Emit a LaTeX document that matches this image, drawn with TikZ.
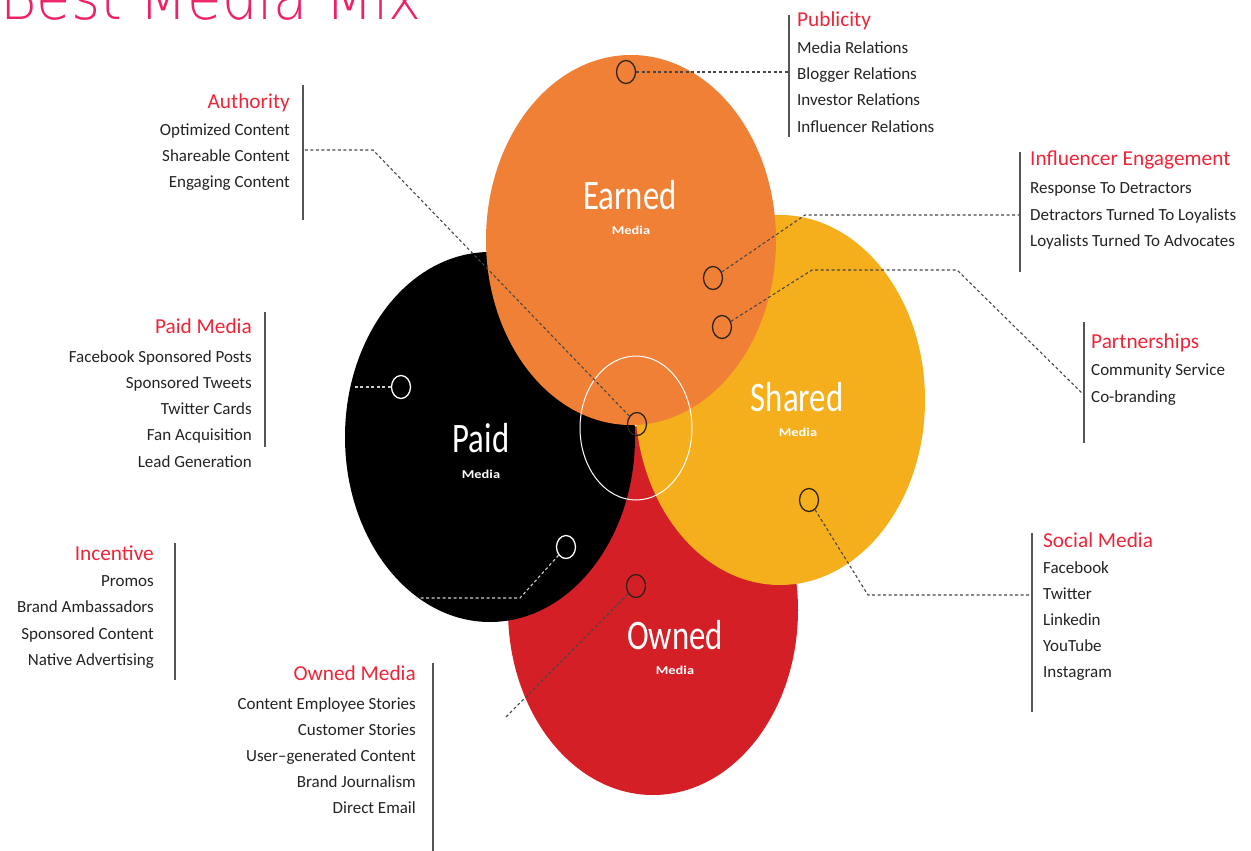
\documentclass[tikz,border=0pt]{standalone}
\usepackage{fontspec}
\setmainfont{Carlito}
\newfontfamily\titlefont{DejaVu Sans ExtraLight}
\usetikzlibrary{shapes.geometric}
\definecolor{earnedcol}{RGB}{241,128,55}
\definecolor{sharedcol}{RGB}{245,174,28}
\definecolor{ownedcol}{RGB}{212,31,38}
\definecolor{headred}{RGB}{240,36,56}
\definecolor{titlepink}{RGB}{238,32,102}
\definecolor{itemcol}{RGB}{35,35,35}
\definecolor{barcol}{RGB}{85,85,85}
\definecolor{markcol}{RGB}{45,35,25}
\definecolor{conncol}{RGB}{70,70,70}
\tikzset{
  blob/.style={ellipse, minimum width=290pt, minimum height=370pt, inner sep=0pt},
  marker/.style={ellipse, draw=markcol, line width=1.3pt, minimum width=19pt, minimum height=23pt, inner sep=0pt},
  wmarker/.style={marker, draw=white},
  conn/.style={draw=conncol, line width=1.1pt, dash pattern=on 3pt off 2.5pt},
  wconn/.style={conn, draw=white!80!black},
  bar/.style={draw=barcol, line width=1.2pt},
  head/.style={text=headred, font=\fontsize{21.3}{24}\selectfont, inner sep=0pt},
  item/.style={text=itemcol, font=\fontsize{17}{20}\selectfont, inner sep=0pt},
  big/.style={text=white, font=\fontsize{42}{46}\selectfont, inner sep=0pt},
  small/.style={text=white, font=\bfseries\fontsize{12}{14}\selectfont, inner sep=0pt}
}
\begin{document}
\begin{tikzpicture}[x=1pt,y=-1pt]
  \useasboundingbox (0,0) rectangle (1251,851);
  % the four media
  \node[blob, fill=ownedcol] (owned) at (653,610) {};
  \node[blob, fill=black] (paid) at (490,437) {};
  \node[blob, fill=sharedcol] (shared) at (780,400) {};
  \node[blob, fill=earnedcol] (earned) at (631,240) {};
  \node[ellipse, draw=white, line width=1pt, minimum width=112pt, minimum height=144pt] (ring) at (636,428) {};
  \node[big] (earnedlbl) at (630,195) {\scalebox{0.78}[1]{Earned}};
  \node[small] (earnedsub) at (631,230) {\scalebox{1.2}[1]{Media}};
  \node[big] (paidlbl) at (481,438) {\scalebox{0.78}[1]{Paid}};
  \node[small] (paidsub) at (481,474) {\scalebox{1.2}[1]{Media}};
  \node[big] (sharedlbl) at (797,397) {\scalebox{0.78}[1]{Shared}};
  \node[small] (sharedsub) at (798,432) {\scalebox{1.2}[1]{Media}};
  \node[big] (ownedlbl) at (675,635) {\scalebox{0.78}[1]{Owned}};
  \node[small] (ownedsub) at (675,670) {\scalebox{1.2}[1]{Media}};
  \node[anchor=base west, inner sep=0pt, text=titlepink, font=\titlefont\fontsize{62}{62}\selectfont] (title) at (0,20) {\scalebox{0.9}[1]{Best Media Mix}};
  % markers
  \node[marker] (mEarned) at (626,72) {};
  \node[marker] (mInfl) at (713,278) {};
  \node[marker] (mPart) at (722,327) {};
  \node[marker] (mAuth) at (637,424) {};
  \node[wmarker] (mPaid) at (401,387) {};
  \node[wmarker] (mInc) at (566,547) {};
  \node[marker] (mOwned) at (636,586) {};
  \node[marker] (mSocial) at (809,500) {};
  % connectors
  \coordinate (pubend) at (789,72);
  \coordinate (inflknee) at (805,215);
  \coordinate (inflend) at (1020,215);
  \coordinate (partknee) at (812,270);
  \coordinate (partknee2) at (957,270);
  \coordinate (partend) at (1084,395);
  \coordinate (authknee) at (373,150);
  \coordinate (authend) at (303,150);
  \coordinate (paidend) at (355,387);
  \coordinate (incknee) at (520,598);
  \coordinate (incend) at (415,598);
  \coordinate (ownedend) at (506,717);
  \coordinate (socknee) at (868,595);
  \coordinate (socend) at (1032,595);
  \draw[conn] (mEarned) -- (pubend);
  \draw[conn] (mInfl) -- (inflknee) -- (inflend);
  \draw[conn] (mPart) -- (partknee) -- (partknee2) -- (partend);
  \draw[conn] (mAuth) -- (authknee) -- (authend);
  \draw[wconn] (mPaid) -- (paidend);
  \draw[wconn] (mInc) -- (incknee) -- (incend);
  \draw[conn] (mOwned) -- (ownedend);
  \draw[conn] (mSocial) -- (socknee) -- (socend);
  % bars
  \draw[bar] (789,15) -- (789,137);
  \draw[bar] (1020,152) -- (1020,272);
  \draw[bar] (1084,322) -- (1084,443);
  \draw[bar] (1032,533) -- (1032,712);
  \draw[bar] (303,85) -- (303,220);
  \draw[bar] (265,312) -- (265,447);
  \draw[bar] (175,543) -- (175,680);
  \draw[bar] (433,663) -- (433,851);
  % right hand lists
  \node[head, anchor=base west] (publicity) at (797,27) {Publicity};
  \foreach \t [count=\i] in {Media Relations, Blogger Relations, Investor Relations, Influencer Relations}
    \node[item, anchor=base west] (publicity-\i) at (797,27+26.3*\i) {\t};
  \node[head, anchor=base west] (influencer) at (1030,165) {Influencer Engagement};
  \foreach \t [count=\i] in {Response To Detractors, Detractors Turned To Loyalists, Loyalists Turned To Advocates}
    \node[item, anchor=base west] (influencer-\i) at (1030,167+26.5*\i) {\t};
  \node[head, anchor=base west] (partner) at (1091,348) {Partnerships};
  \foreach \t [count=\i] in {Community Service, Co-branding}
    \node[item, anchor=base west] (partner-\i) at (1091,349+26.5*\i) {\t};
  \node[head, anchor=base west] (social) at (1043,547) {Social Media};
  \foreach \t [count=\i] in {Facebook, Twitter, Linkedin, YouTube, Instagram}
    \node[item, anchor=base west] (social-\i) at (1043,547+26*\i) {\t};
  % left hand lists
  \node[head, anchor=base east] (authority) at (290,108) {Authority};
  \foreach \t [count=\i] in {Optimized Content, Shareable Content, Engaging Content}
    \node[item, anchor=base east] (authority-\i) at (290,109+26.3*\i) {\t};
  \node[head, anchor=base east] (paidmedia) at (252,333) {Paid Media};
  \foreach \t [count=\i] in {Facebook Sponsored Posts, Sponsored Tweets, Twitter Cards, Fan Acquisition, Lead Generation}
    \node[item, anchor=base east] (paidmedia-\i) at (252,336+26.2*\i) {\t};
  \node[head, anchor=base east] (incentive) at (154,560) {Incentive};
  \foreach \t [count=\i] in {Promos, Brand Ambassadors, Sponsored Content, Native Advertising}
    \node[item, anchor=base east] (incentive-\i) at (154,560+26.4*\i) {\t};
  \node[head, anchor=base east] (ownedmedia) at (416,680) {Owned Media};
  \foreach \t [count=\i] in {Content Employee Stories, Customer Stories, User–generated Content, Brand Journalism, Direct Email}
    \node[item, anchor=base east] (ownedmedia-\i) at (416,683+26*\i) {\t};
\end{tikzpicture}
\end{document}
